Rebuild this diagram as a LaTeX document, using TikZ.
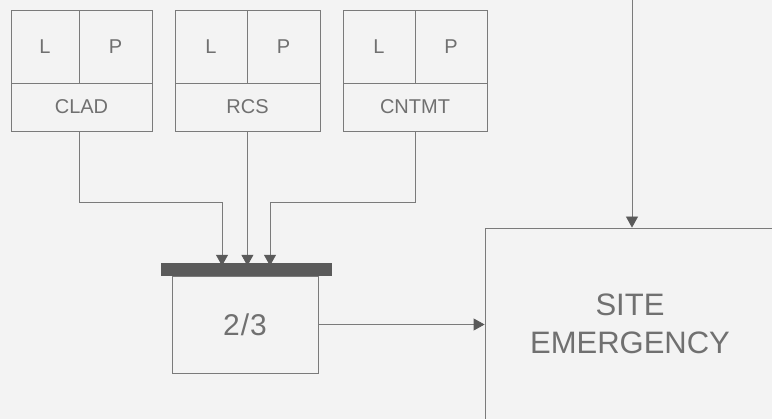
\documentclass[tikz,border=0pt]{standalone}
\usepackage{fontspec}
\setmainfont{Liberation Sans}
\usetikzlibrary{arrows.meta}
\definecolor{bg}{HTML}{F3F3F3}
\definecolor{ln}{HTML}{7A7A7A}
\definecolor{tx}{HTML}{707070}
\definecolor{barc}{HTML}{5A5A5A}
\begin{document}
\begin{tikzpicture}[x=1pt,y=-1pt,
  cell/.style={draw=ln,line width=0.8pt,inner sep=0pt,anchor=center,text=tx,font=\fontsize{20}{22}\selectfont},
  conn/.style={draw=ln,line width=0.8pt,-{Triangle[width=12pt,length=11pt,fill=barc,color=barc]}}]
\useasboundingbox (0,0) rectangle (772,419);
\fill[bg] (0,0) rectangle (772,419);
\clip (0,0) rectangle (772,419);
% CLAD
\node[cell,minimum width=68pt,minimum height=73pt] (Lclad) at (45,46.5) {L};
\node[cell,minimum width=73pt,minimum height=73pt] (Pclad) at (115.5,46.5) {P};
\node[cell,minimum width=141pt,minimum height=48pt] (clad) at (81.5,107) {CLAD};
% RCS
\node[cell,minimum width=72pt,minimum height=73pt] (Lrcs) at (211,46.5) {L};
\node[cell,minimum width=73pt,minimum height=73pt] (Prcs) at (283.5,46.5) {P};
\node[cell,minimum width=145pt,minimum height=48pt] (rcs) at (247.5,107) {RCS};
% CNTMT
\node[cell,minimum width=72pt,minimum height=73pt] (Lcnt) at (379,46.5) {L};
\node[cell,minimum width=72pt,minimum height=73pt] (Pcnt) at (451,46.5) {P};
\node[cell,minimum width=144pt,minimum height=48pt] (cnt) at (415,107) {CNTMT};
% bar and 2/3
\node[fill=barc,draw=none,inner sep=0pt,minimum width=171pt,minimum height=13pt] (bar) at (246.5,269.5) {};
\node[cell,minimum width=146pt,minimum height=97pt,font=\fontsize{30}{32}\selectfont] (vote) at (245,324.5) {2\kern1pt/\kern1pt3};
% site emergency
\node[cell,minimum width=320pt,minimum height=240pt] (site) at (645,348) {};
\node[text=tx,align=center,font=\fontsize{31}{38}\selectfont,inner sep=0pt] (sitetxt) at (630,324) {SITE\\EMERGENCY};
\coordinate (topin) at (632,0);
% connectors
\draw[conn] (Lclad.east |- clad.south) -- ++(0,71) -| ([xshift=-24.5pt,yshift=-3pt]bar.north);
\draw[conn] (Lrcs.east |- rcs.south) -- ([yshift=-3pt]Lrcs.east |- bar.north);
\draw[conn] (Lcnt.east |- cnt.south) -- ++(0,71) -| ([xshift=23.5pt,yshift=-3pt]bar.north);
\draw[conn] (vote.east) -- (vote.east -| site.west);
\draw[conn] (topin) -- (topin |- site.north);
\end{tikzpicture}
\end{document}
